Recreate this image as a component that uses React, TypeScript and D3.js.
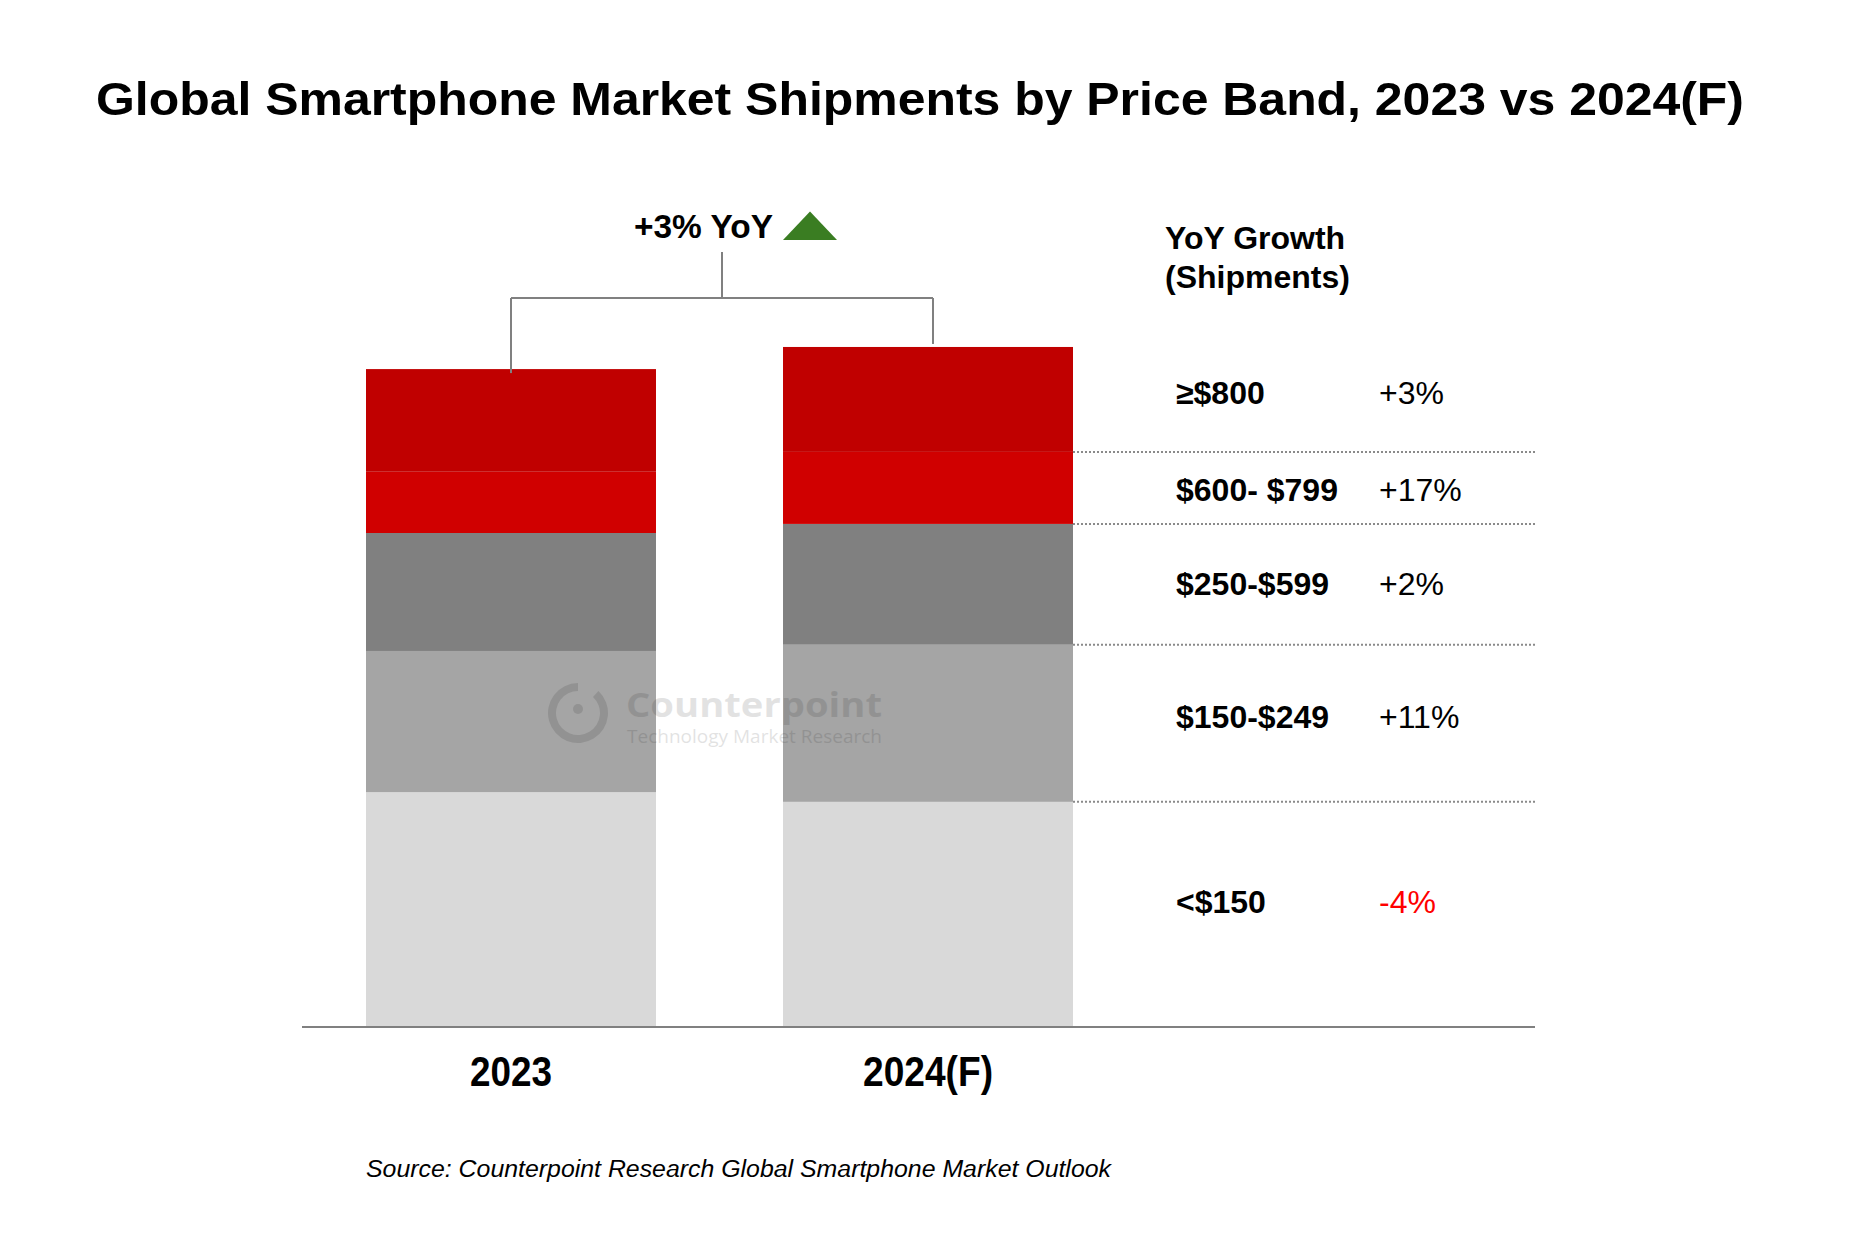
import React from "react";
import * as d3 from "d3";

// ---------- data ----------
const years = ["2023", "2024(F)"];
const bands = ["<$150", "$150-$249", "$250-$599", "$600- $799", "≥$800"];
const shipments2023 = [414, 249, 208, 108, 181]; // million units (estimated)
const shipments2024 = [397, 277, 213, 127, 185]; // million units (estimated)
const yoyGrowth = ["-4%", "+11%", "+2%", "+17%", "+3%"];
const totalYoY = "+3% YoY";
const growthHeader = ["YoY Growth", "(Shipments)"];
const title = "Global Smartphone Market Shipments by Price Band, 2023 vs 2024(F)";
const source = "Source: Counterpoint Research Global Smartphone Market Outlook";

// ---------- styles ----------
const bandColors = ["#D9D9D9", "#A5A5A5", "#808080", "#D00000", "#C00000"];
const labelNudge = [-12, -6, 0, 2, -6];
const FONT = "'Liberation Sans', Arial, Helvetica, sans-serif";
const W = 1874;
const H = 1247;

export default function App() {
  const rows = years.map((yr, i) => {
    const r: any = { year: yr };
    bands.forEach((b, j) => {
      r[b] = i === 0 ? shipments2023[j] : shipments2024[j];
    });
    return r;
  });
  const series = d3.stack<any>().keys(bands)(rows);

  const x = d3.scaleBand<string>().domain(years).range([366, 1073]).paddingInner(0.3046).paddingOuter(0);
  const y = d3.scaleLinear().domain([0, 1200]).range([1027, 346.4]);

  const bw = x.bandwidth();
  const c0 = (x(years[0]) as number) + bw / 2;
  const c1 = (x(years[1]) as number) + bw / 2 + 5;
  const stemX = (c0 + c1) / 2;
  const bracketY = 298;
  const lastBarRight = (x(years[1]) as number) + bw;
  const tableRight = 1536;
  const labelX = 1176;
  const pctX = 1379;

  const top2023 = y(d3.sum(shipments2023));
  const top2024 = y(d3.sum(shipments2024));

  const arc = d3.arc()({ innerRadius: 22, outerRadius: 30, startAngle: 0.75, endAngle: Math.PI * 2 } as any) as string;

  return (
    <svg width={W} height={H} style={{ position: "absolute", left: 0, top: 0, background: "#fff" }} fontFamily={FONT}>
      <rect x={0} y={0} width={W} height={H} fill="#fff" />
      {/* Title */}
      <text x={920} y={115} textAnchor="middle" fontSize={47} fontWeight="bold" fill="#000" textLength={1648} lengthAdjust="spacingAndGlyphs">
        {title}
      </text>

      {/* bars */}
      {series.map((s, j) => (
        <g key={s.key} fill={bandColors[j]}>
          {s.map((d, i) => (
            <rect key={i} x={x(years[i]) as number} y={y(d[1])} width={bw} height={y(d[0]) - y(d[1])} />
          ))}
        </g>
      ))}

      {/* watermark */}
      <g opacity={0.11} fill="#000">
        <path d={arc} transform="translate(578,713)" />
        <circle cx={578} cy={709} r={5} />
        <text x={626} y={717} fontFamily="'Open Sans', sans-serif" fontWeight="bold" fontSize={34} textLength={256} lengthAdjust="spacingAndGlyphs">Counterpoint</text>
        <text x={627} y={743} fontFamily="'Open Sans', sans-serif" fontSize={18} textLength={255} lengthAdjust="spacingAndGlyphs">Technology Market Research</text>
      </g>

      {/* baseline */}
      <line x1={302} x2={1535} y1={y(0)} y2={y(0)} stroke="#808080" strokeWidth={2} />

      {/* dotted separators from 2024 bar */}
      {series.slice(0, -1).map((s) => (
        <line key={s.key} x1={lastBarRight} x2={tableRight} y1={y(s[1][1])} y2={y(s[1][1])} stroke="#8a8a8a" strokeWidth={2} strokeDasharray="2 2" />
      ))}

      {/* growth table */}
      <g fontSize={32} fontWeight="bold" fill="#000">
        <text x={1165} y={249}>{growthHeader[0]}</text>
        <text x={1165} y={288}>{growthHeader[1]}</text>
      </g>
      {series.map((s, j) => {
        const mid = y((s[1][0] + s[1][1]) / 2) + labelNudge[j];
        return (
          <g key={s.key} fontSize={32}>
            <text x={labelX} y={mid} dominantBaseline="central" fontWeight="bold" fill="#000">{bands[j]}</text>
            <text x={pctX} y={mid} dominantBaseline="central" fill={yoyGrowth[j].startsWith("-") ? "#FF0000" : "#000"}>{yoyGrowth[j]}</text>
          </g>
        );
      })}

      {/* bracket */}
      <g stroke="#808080" strokeWidth={2} fill="none">
        <line x1={stemX} x2={stemX} y1={252} y2={bracketY} />
        <line x1={c0} x2={c1} y1={bracketY} y2={bracketY} />
        <line x1={c0} x2={c0} y1={bracketY} y2={top2023 + 4} />
        <line x1={c1} x2={c1} y1={bracketY} y2={top2024 - 3} />
      </g>
      <text x={stemX + 51} y={238} textAnchor="end" fontSize={33} fontWeight="bold" fill="#000" textLength={139} lengthAdjust="spacingAndGlyphs">{totalYoY}</text>
      <path d={`M${stemX + 61},240 L${stemX + 115},240 L${stemX + 88},211.5 Z`} fill="#3A7D22" />

      {/* x labels */}
      {years.map((yr) => (
        <text key={yr} x={(x(yr) as number) + bw / 2} y={1086} textAnchor="middle" fontSize={42} fontWeight="bold" fill="#000"
          fontFamily="'Liberation Sans Narrow', 'Arial Narrow', 'Liberation Sans', Arial, sans-serif"
          textLength={yr === years[0] ? 82 : 130} lengthAdjust="spacingAndGlyphs">
          {yr}
        </text>
      ))}

      {/* source */}
      <text x={366} y={1177} fontSize={23} fontStyle="italic" fill="#000" textLength={745} lengthAdjust="spacingAndGlyphs">{source}</text>
    </svg>
  );
}
